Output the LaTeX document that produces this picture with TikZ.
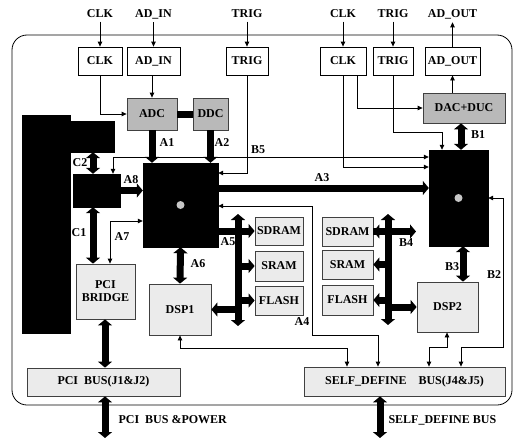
\documentclass[tikz,border=0pt]{standalone}
\usepackage{fontspec}
\setmainfont{Liberation Serif}
\usetikzlibrary{arrows.meta,positioning}

\begin{document}
\begin{tikzpicture}[x=1pt,y=-1pt,
		font=\fontsize{12}{13}\selectfont\bfseries,
		box/.style={draw, thick, fill=white, inner sep=0, minimum height=28},
		lightbox/.style={draw=black!75, thick, fill=gray!16, inner sep=0},
		darkbox/.style={draw=black!75, thick, fill=gray!55, inner sep=0},
		chip/.style={draw, fill=black, inner sep=0},
		sig/.style={thick, >={Triangle[length=5pt,width=4.5pt]}},
		bus/.style={line width=7pt, >={Triangle[length=6pt,width=14pt]}},
	]
				\useasboundingbox (0,0) rectangle (517,439);
				\draw[thick, rounded corners=15pt] (12,35) rectangle (512,405);

				\node (inclk1) at (100,14) {CLK};
				\node (inadin) at (153.5,14) {AD\_IN};
				\node (intrig1) at (247,14) {TRIG};
				\node (inclk2) at (343,14) {CLK};
				\node (intrig2) at (393,14) {TRIG};
				\node (outad) at (452.5,14) {AD\_OUT};

				\node[box, minimum width=44] (clk1) at (100,61) {CLK};
				\node[box, minimum width=53] (adin) at (153.5,61) {AD\_IN};
				\node[box, minimum width=42] (trig1) at (247,61) {TRIG};
				\node[box, minimum width=46] (clk2) at (343,61) {CLK};
				\node[box, minimum width=40] (trig2) at (393,61) {TRIG};
				\node[box, minimum width=55] (adout) at (452.5,61) {AD\_OUT};

				\node[darkbox, minimum width=50, minimum height=32] (adc) at (152,114) {ADC};
				\node[darkbox, minimum width=35, minimum height=32] (ddc) at (210.5,114) {DDC};
				\node[darkbox, minimum width=82, minimum height=30] (dac) at (464,108) {DAC+DUC};

				\node[chip, minimum width=48, minimum height=218] (host) at (46,224) {};
				\node[chip, minimum width=44, minimum height=31] (hostio) at (92,136.5) {};
				\node[chip, minimum width=47, minimum height=33] (pcictl) at (96.5,190.5) {};
				\node[chip, minimum width=75, minimum height=84] (fpga1) at (180.5,205) {};
				\node[chip, minimum width=59, minimum height=96] (fpga2) at (458.5,198) {};
				\fill[gray!45] (fpga1.center) circle (4pt);
				\fill[gray!45] (fpga2.center) circle (4pt);

				\node[lightbox, minimum width=59, minimum height=55, align=center] (pcib) at (105.5,291.5) {PCI\\BRIDGE};
				\node[lightbox, minimum width=62, minimum height=51] (dsp1) at (180,309.5) {DSP1};
				\node[lightbox, minimum width=48, minimum height=28] (sdram1) at (279,231) {SDRAM};
				\node[lightbox, minimum width=48, minimum height=30] (sram1) at (279,266) {SRAM};
				\node[lightbox, minimum width=48, minimum height=29] (flash1) at (279,300.5) {FLASH};
				\node[lightbox, minimum width=51, minimum height=29] (sdram2) at (347.5,231.5) {SDRAM};
				\node[lightbox, minimum width=51, minimum height=29] (sram2) at (347.5,264.5) {SRAM};
				\node[lightbox, minimum width=51, minimum height=30] (flash2) at (347.5,300) {FLASH};
				\node[lightbox, minimum width=61, minimum height=50] (dsp2) at (447.5,307) {DSP2};
				\node[lightbox, minimum width=153, minimum height=28] (pcibus) at (103.5,382) {PCI\ \ BUS(J1\&J2)};
				\node[lightbox, minimum width=201, minimum height=29] (selfbus) at (404.5,381.5) {SELF\_DEFINE\hspace{1em}BUS(J4\&J5)};

				\coordinate (m1top) at (238,214);
				\coordinate (m1bot) at (238,326);
				\coordinate (m2top) at (388,214);
				\coordinate (m2bot) at (388,325);
				\coordinate (b4end) at (416,231.5);
				\coordinate (pciend) at (105,438);
				\coordinate (selfend) at (380,438);

				\draw[sig, ->] (inclk1) to (clk1);
				\draw[sig, ->] (inadin) to (adin);
				\draw[sig, ->] (intrig1) to (trig1);
				\draw[sig, ->] (inclk2) to (clk2);
				\draw[sig, ->] (intrig2) to (trig2);
				\draw[sig, ->] (adout) to (outad);
				\draw[sig, ->] (dac.north -| adout.south) to (adout.south);

				\draw[sig, ->] (clk1.south) |- (adc.west);
				\draw[sig, ->] (adin.south -| adc.north) to (adc.north);
				\draw[sig, ->] (trig1.south) |- (fpga1.east |- 0,173);
				\draw[sig, ->] (clk2.south) |- (fpga2.west |- 0,167);
				\draw[sig, ->] (clk2.south -| 357,0) |- (dac.west);
				\draw[sig, ->] (trig2.south) |- (442,132) -- (fpga2.north -| 442,0);

				\draw[bus] (adc) to (ddc);
				\draw[bus, ->] (adc.south) to (fpga1.north -| adc.south);
				\draw[bus, ->] (ddc.south) to (fpga1.north -| ddc.south);
				\draw[bus, <->] (dac.south -| 461,0) to (fpga2.north -| 461,0);
				\draw[bus, <->] (hostio.south -| 93,0) to (pcictl.north -| 93,0);
				\draw[bus, <->] (pcictl.south -| 93,0) to (pcib.north -| 93,0);
				\draw[bus, ->] (pcictl.east) to (fpga1.west |- pcictl.east);
				\draw[bus, ->] (fpga1.east |- 0,188) to (fpga2.west |- 0,188);
				\draw[bus, <->] (fpga1.south) to (dsp1.north);
				\draw[bus, <->] (fpga2.south -| 463,0) to (dsp2.north -| 463,0);
				\draw[bus, <->] (pcib.south -| 105,0) to (pcibus.north -| 105,0);
				\draw[bus, <->] (pcibus.south -| 105,0) to (pciend);
				\draw[bus, <->] (selfbus.south -| 380,0) to (selfend);

				\draw[bus, <->] (m1top) to (m1bot);
				\draw[bus, ->] (fpga1.east |- sdram1.west) to (sdram1.west);
				\draw[bus, ->] (m1top |- sram1.west) to (sram1.west);
				\draw[bus, ->] (m1top |- flash1.west) to (flash1.west);
				\draw[bus, ->] (m1top |- dsp1.east) to (dsp1.east);
				\draw[bus, <->] (m2top) to (m2bot);
				\draw[bus, ->] (m2top |- sdram2.east) to (sdram2.east);
				\draw[bus, ->] (m2top |- sram2.east) to (sram2.east);
				\draw[bus, ->] (m2top |- flash2.east) to (flash2.east);
				\draw[bus, ->] (sdram2.east) to (b4end);
				\draw[bus, ->] (m2top |- dsp2.west) to (dsp2.west);

				\draw[sig, <->] (pcictl.north -| 113,0) |- (fpga2.west |- 0,157);
				\draw[sig, <->] (fpga1.west |- 0,221) -| (pcib.north -| 110,0);
				\draw[sig, <->] (fpga1.east |- 0,206) -| (312,335) -| (selfbus.north -| 378,0);
				\draw[sig, <->] (dsp1.south) |- (347,348) to (selfbus.north -| 347,0);
				\draw[sig, <->] (fpga2.east |- 0,198) -| (503,347) -| (selfbus.north -| 461,0);
				\draw[sig, <->] (dsp2.south -| 447,0) |- (429,347) to (selfbus.north -| 429,0);

				\node (a1) at (167,143) {A1};
				\node (a2) at (222,143) {A2};
				\node (b5) at (258,150) {B5};
				\node (c2) at (80,163) {C2};
				\node (a8) at (131,180) {A8};
				\node (c1) at (79,233) {C1};
				\node (a7) at (122,237) {A7};
				\node (a3) at (322,178) {A3};
				\node (a5) at (228,242) {A5};
				\node (a6) at (198,264) {A6};
				\node (a4) at (302,322) {A4};
				\node (b1) at (478,135) {B1};
				\node (b4) at (406,243) {B4};
				\node (b3) at (452,267) {B3};
				\node (b2) at (494,275) {B2};
				\node[anchor=west] (pcilbl) at (115,420) {PCI\ \ BUS \&POWER};
				\node[anchor=west] (selflbl) at (385,420) {SELF\_DEFINE BUS};
		\end{tikzpicture}
\end{document}
